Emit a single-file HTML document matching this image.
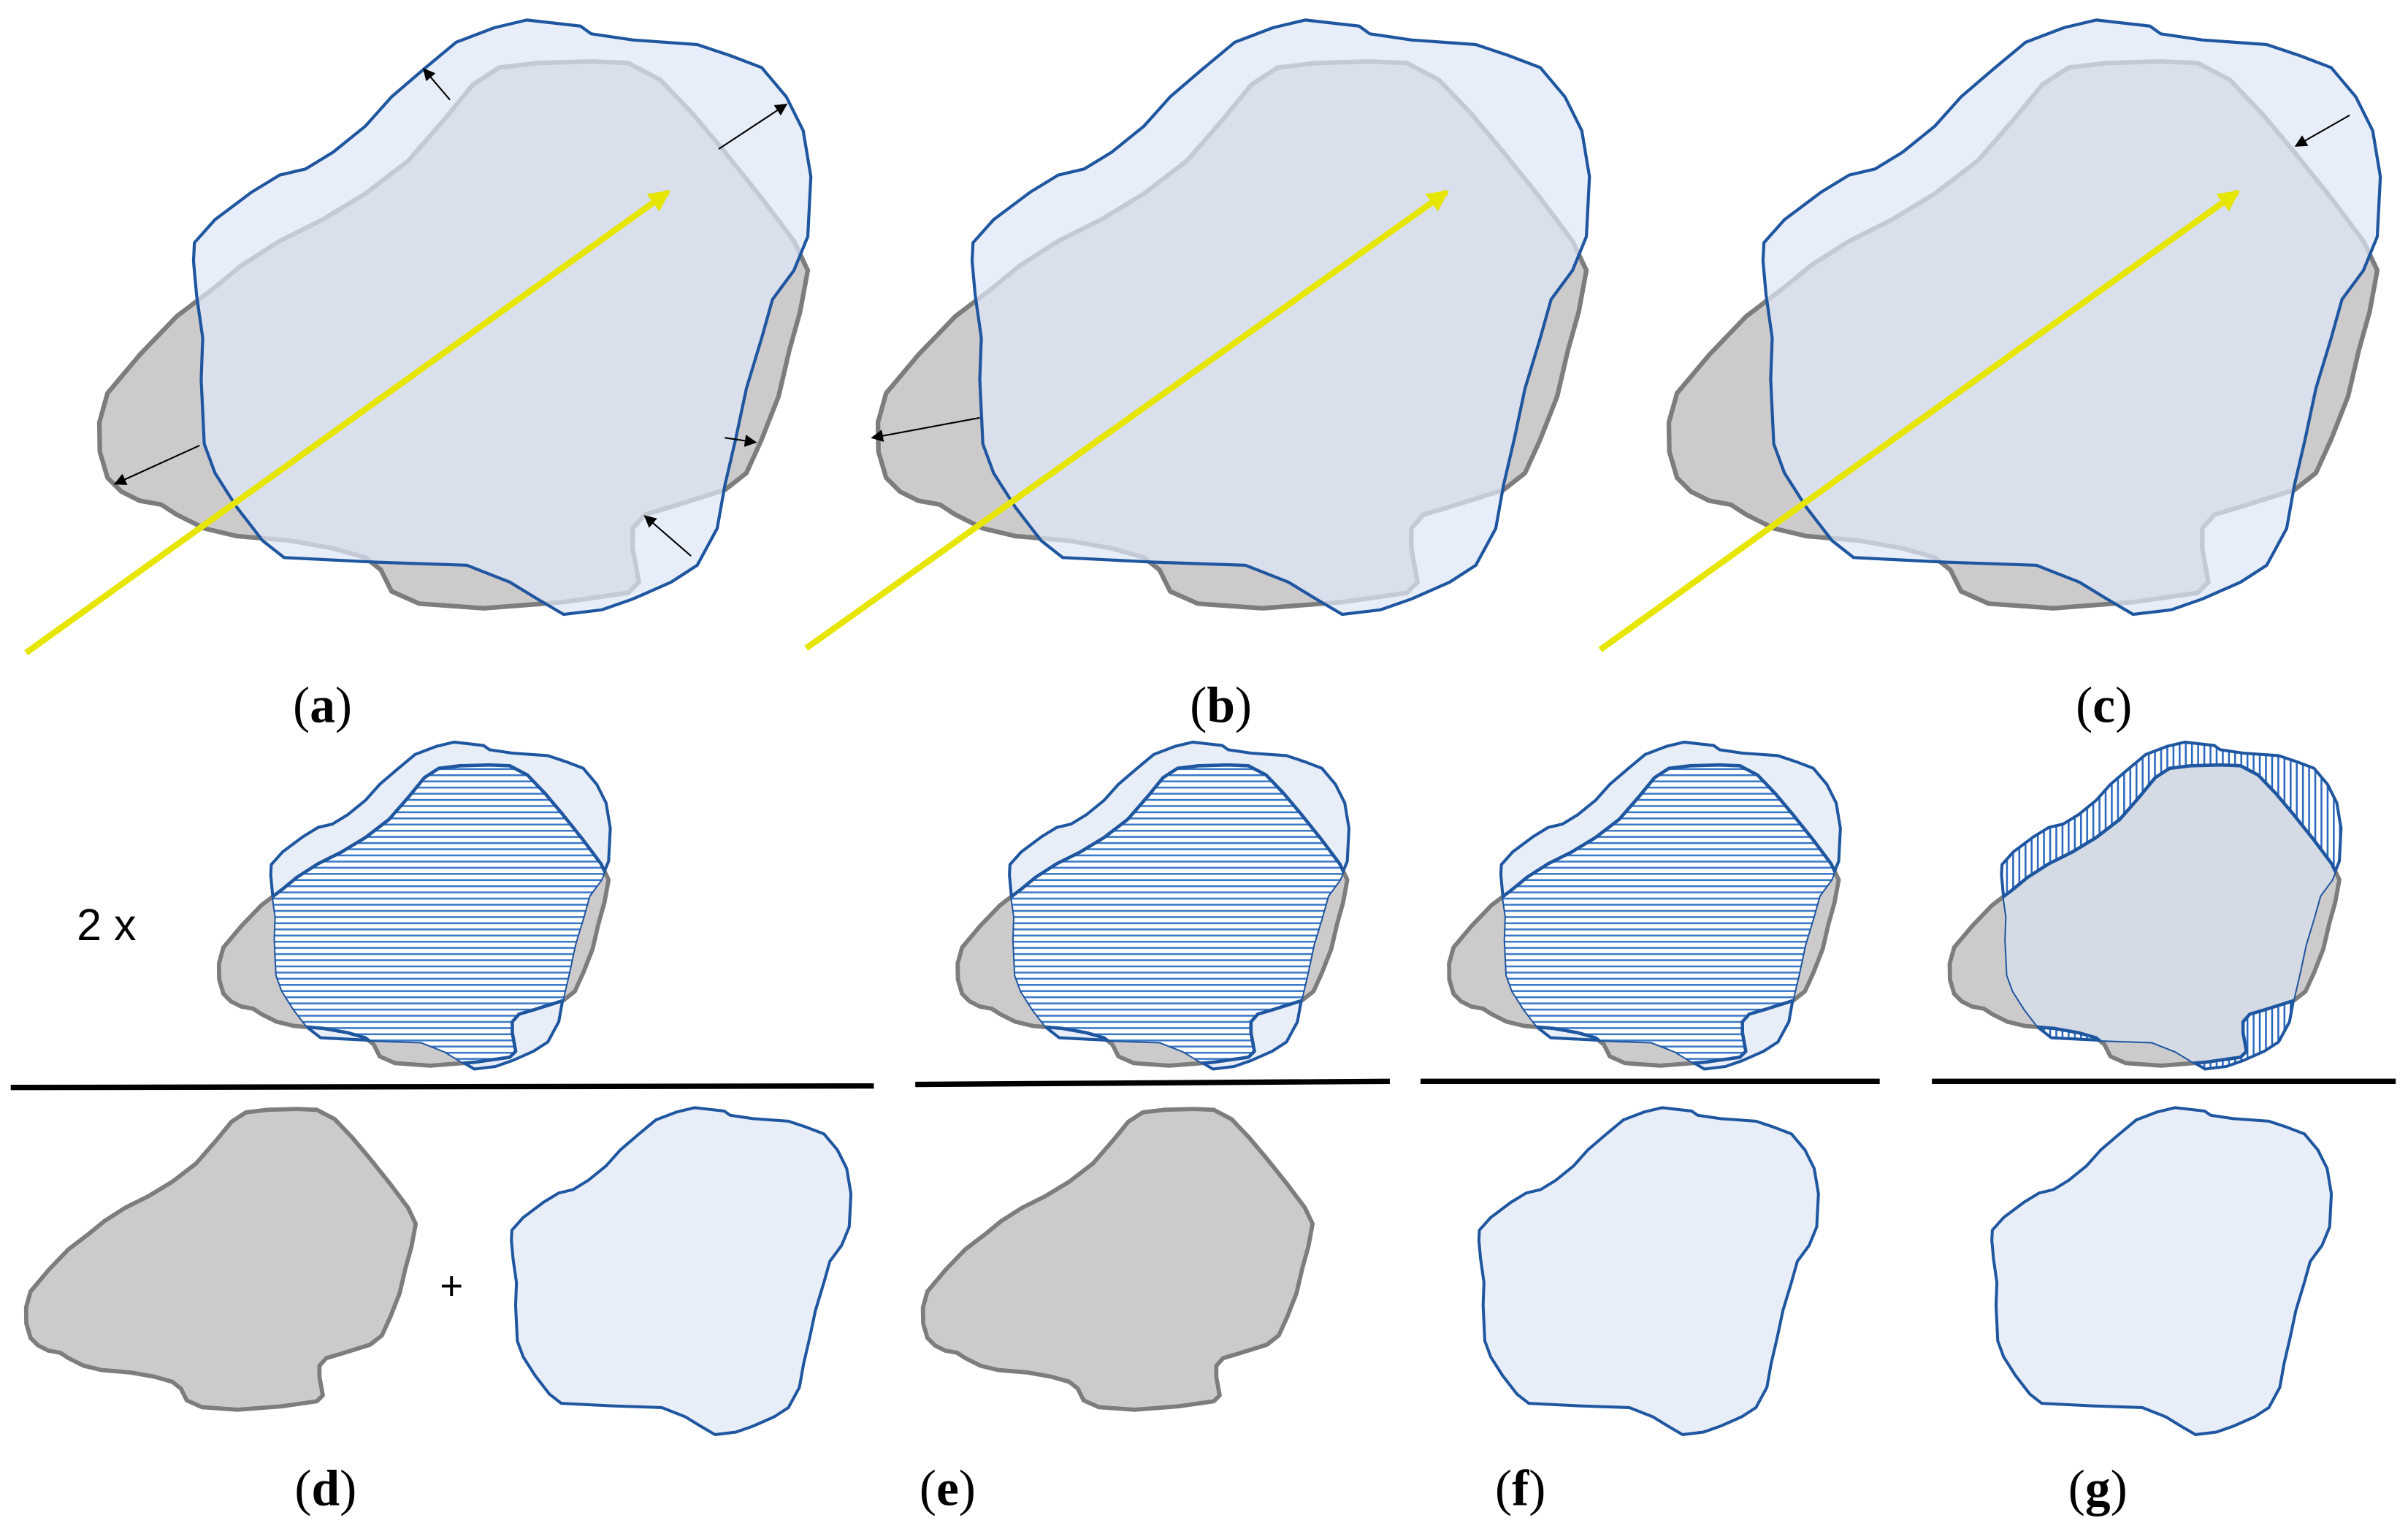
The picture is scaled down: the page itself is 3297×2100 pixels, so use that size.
<!DOCTYPE html>
<html><head><meta charset="utf-8"><style>html,body{margin:0;padding:0;background:#fff}svg{display:block}</style></head>
<body>
<svg width="3297" height="2100" viewBox="0 0 1568 998.7" xmlns="http://www.w3.org/2000/svg">
<defs>
<path id="G" stroke-linejoin="round" d="M64.7,275 L70,256 L91,231 L115,206 L140,187 L157,173 L182,157 L210,143 L238,126 L266,104.5 L290,77 L308,55 L325,44 L350,41 L385,40 L409,41 L430,52 L451,74 L472,99 L496,129 L517,157 L526,176 L521,203 L514,228 L507,258 L496,286 L486,308 L472,319 L437,330 L420,335 L412,344 L412,357 L416,379 L409,386 L367,392 L315,396 L273,393 L255,385 L248,371 L238,363 L217,357 L189,352 L154,349 L133,344 L115,335 L105,328.5 L91,326 L79,320 L70,311 L65,294 Z"/>
<path id="B" stroke-linejoin="round" d="M126.6,158 L140,143 L164,125 L182,114 L199,110 L217,99 L238,82 L255,63 L276,45 L297,27.5 L322,18 L343,13 L378,17 L385,22 L412,26 L454,29 L475,36 L496,44 L512,63 L523,85 L528,115 L526,154 L517,176 L503,195 L496,220 L486,253 L479,286 L472,316 L467,344 L454,368 L437,379 L412,390 L392,397 L367,400 L350,390 L332,379 L304,368 L245,366 L185,363 L171,352 L154,330 L140,308 L133,289 L131,247 L132,220 L128,192 L126,170 Z"/>
<clipPath id="cg"><use href="#G"/></clipPath>
<clipPath id="cb"><use href="#B"/></clipPath>
<pattern id="hh" width="10" height="7.3" patternUnits="userSpaceOnUse"><rect width="10" height="7.3" fill="#fff"/><rect y="0" width="10" height="2.2" fill="#3a78c8"/></pattern>
<pattern id="vv" width="7.3" height="10" patternUnits="userSpaceOnUse"><rect width="7.3" height="10" fill="#fff"/><rect x="0" width="2.2" height="10" fill="#2a68c0"/></pattern>
<marker id="ar" markerWidth="8" markerHeight="8" refX="7" refY="4" orient="auto" markerUnits="userSpaceOnUse"><path d="M0,0 L8,4 L0,8 Z" fill="#000"/></marker>
<marker id="ay" markerWidth="14" markerHeight="14" refX="12" refY="7" orient="auto" markerUnits="userSpaceOnUse"><path d="M0,0 L14,7 L0,14 Z" fill="#e6e600"/></marker>
<g id="overlay">
<use href="#G" fill="#cdcacb" stroke="#7d7d7d" stroke-width="3"/>
<use href="#B" fill="rgba(222,232,247,0.72)" stroke="#1f56a0" stroke-width="2"/>
</g>
<g id="hatchH">
<use href="#G" fill="#cdcacb" stroke="#7d7d7d" stroke-width="5"/>
<use href="#B" fill="#e8eef8" stroke="#1f56a0" stroke-width="3.5"/>
<g clip-path="url(#cg)"><use href="#B" fill="url(#hh)"/></g>
<g clip-path="url(#cb)"><use href="#G" fill="none" stroke="#1f56a0" stroke-width="4"/></g>
</g>
</defs>
<rect width="1568" height="998.7" fill="#fff"/>

<!-- top row -->
<use href="#overlay"/>
<line x1="17" y1="425" x2="435" y2="125" stroke="#e6e600" stroke-width="4" marker-end="url(#ay)"/>
<g stroke="#000" stroke-width="1" marker-end="url(#ar)">
<line x1="293" y1="65" x2="276" y2="45"/><line x1="468" y1="97" x2="512" y2="68"/>
<line x1="130" y1="290" x2="75" y2="315"/><line x1="472" y1="285" x2="492" y2="288"/>
<line x1="450" y1="362" x2="420" y2="336"/>
</g>
<g transform="translate(507,0)"><use href="#overlay"/></g>
<line x1="525" y1="422" x2="942" y2="125" stroke="#e6e600" stroke-width="4" marker-end="url(#ay)"/>
<line x1="638" y1="272" x2="568" y2="285" stroke="#000" stroke-width="1" marker-end="url(#ar)"/>
<g transform="translate(1022,0)"><use href="#overlay"/></g>
<line x1="1042" y1="423" x2="1457" y2="125" stroke="#e6e600" stroke-width="4" marker-end="url(#ay)"/>
<line x1="1530" y1="75" x2="1495" y2="95" stroke="#000" stroke-width="1" marker-end="url(#ar)"/>

<!-- middle row -->
<g transform="translate(107,476) scale(0.55)"><use href="#hatchH"/></g>
<g transform="translate(588,476) scale(0.55)"><use href="#hatchH"/></g>
<g transform="translate(908,476) scale(0.55)"><use href="#hatchH"/></g>
<g transform="translate(1234,476) scale(0.55)">
<use href="#G" fill="#cdcacb" stroke="#7d7d7d" stroke-width="5"/>
<use href="#B" fill="url(#vv)" stroke="#1f56a0" stroke-width="3.5"/>
<g clip-path="url(#cb)"><use href="#G" fill="#d4dbe5" stroke="#1f56a0" stroke-width="4"/></g>
</g>
<text x="50" y="612" font-family="Liberation Sans, sans-serif" font-size="29">2 x</text>
<g stroke="#000" stroke-width="3.5">
<line x1="7" y1="708" x2="569" y2="707"/><line x1="596" y1="706" x2="905" y2="704"/>
<line x1="925" y1="704" x2="1224" y2="704"/><line x1="1258" y1="704" x2="1560" y2="704"/>
</g>

<!-- bottom row -->
<g transform="translate(-18.6,700) scale(0.55)"><use href="#G" fill="#cdcacb" stroke="#7d7d7d" stroke-width="5"/></g>
<g transform="translate(263.7,714) scale(0.55)"><use href="#B" fill="#e8eef8" stroke="#1f56a0" stroke-width="3.5"/></g>
<text x="294" y="846" font-family="Liberation Sans, sans-serif" font-size="26" text-anchor="middle">+</text>
<g transform="translate(565.4,700) scale(0.55)"><use href="#G" fill="#cdcacb" stroke="#7d7d7d" stroke-width="5"/></g>
<g transform="translate(893.7,714) scale(0.55)"><use href="#B" fill="#e8eef8" stroke="#1f56a0" stroke-width="3.5"/></g>
<g transform="translate(1227.7,714) scale(0.55)"><use href="#B" fill="#e8eef8" stroke="#1f56a0" stroke-width="3.5"/></g>

<g font-family="Liberation Serif, serif" font-size="33" text-anchor="middle">
<text x="210" y="470">(<tspan font-weight="bold">a</tspan>)</text>
<text x="795" y="470">(<tspan font-weight="bold">b</tspan>)</text>
<text x="1370" y="470">(<tspan font-weight="bold">c</tspan>)</text>
<text x="212" y="980">(<tspan font-weight="bold">d</tspan>)</text>
<text x="617" y="980">(<tspan font-weight="bold">e</tspan>)</text>
<text x="990" y="980">(<tspan font-weight="bold">f</tspan>)</text>
<text x="1366" y="980">(<tspan font-weight="bold">g</tspan>)</text>
</g>
</svg>
</body></html>
